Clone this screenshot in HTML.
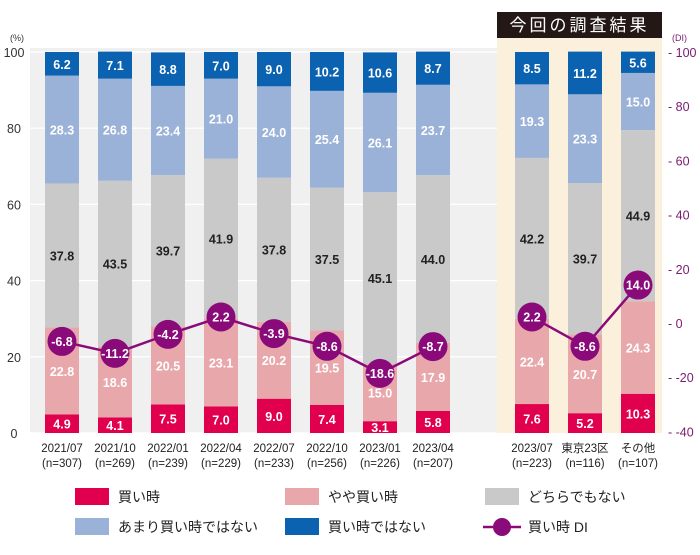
<!DOCTYPE html>
<html><head><meta charset="utf-8"><style>
body{margin:0;background:#fff;font-family:"Liberation Sans","Noto Sans CJK JP",sans-serif}
</style></head><body>
<svg id="c" width="700" height="550" xmlns="http://www.w3.org/2000/svg" font-family="Liberation Sans, Noto Sans CJK JP, sans-serif">
<rect x="30" y="48" width="467" height="385" fill="#f0f0f0"/>
<rect x="497" y="38" width="165" height="395" fill="#fbf0dc"/>
<rect x="497" y="12" width="165" height="26" fill="#231815"/>
<text x="579.5" y="31" fill="#fff" font-size="17" text-anchor="middle" letter-spacing="3">今回の調査結果</text>
<text x="10" y="41" font-size="9" fill="#333">(%)</text>
<text x="672" y="41" font-size="9" fill="#7a1a70">(DI)</text>
<g id="grid"></g><g id="bars"></g><g id="line"></g><g id="axes"></g>
<g font-size="14" fill="#222">
<rect x="75" y="488" width="34" height="17" fill="#e0004d"/>
<text x="118" y="502">買い時</text>
<rect x="285" y="488" width="34" height="17" fill="#e8a8ab"/>
<text x="328" y="502">やや買い時</text>
<rect x="485" y="488" width="34" height="17" fill="#c9c9c9"/>
<text x="528" y="502">どちらでもない</text>
<rect x="75" y="518" width="34" height="17" fill="#9bb2d8"/>
<text x="118" y="532">あまり買い時ではない</text>
<rect x="285" y="518" width="34" height="17" fill="#0b62b0"/>
<text x="328" y="532">買い時ではない</text>
<line x1="483" y1="527" x2="521" y2="527" stroke="#8a0a7a" stroke-width="2.5"/>
<circle cx="502" cy="527" r="9" fill="#8a0a7a"/>
<text x="528" y="532">買い時 DI</text>
</g>
</svg>
<script>
const categories=["2021/07","2021/10","2022/01","2022/04","2022/07","2022/10","2023/01","2023/04","2023/07","東京23区","その他"];
const samples=["(n=307)","(n=269)","(n=239)","(n=229)","(n=233)","(n=256)","(n=226)","(n=207)","(n=223)","(n=116)","(n=107)"];
const buy=[4.9,4.1,7.5,7.0,9.0,7.4,3.1,5.8,7.6,5.2,10.3];
const somewhatBuy=[22.8,18.6,20.5,23.1,20.2,19.5,15.0,17.9,22.4,20.7,24.3];
const neutral=[37.8,43.5,39.7,41.9,37.8,37.5,45.1,44.0,42.2,39.7,44.9];
const notReally=[28.3,26.8,23.4,21.0,24.0,25.4,26.1,23.7,19.3,23.3,15.0];
const notBuy=[6.2,7.1,8.8,7.0,9.0,10.2,10.6,8.7,8.5,11.2,5.6];
const di=[-6.8,-11.2,-4.2,2.2,-3.9,-8.6,-18.6,-8.7,2.2,-8.6,14.0];
const leftTicks=[0,20,40,60,80,100];
const rightTicks=[-40,-20,0,20,40,60,80,100];
const NS="http://www.w3.org/2000/svg";
const yL=v=>433-v*3.81;
const yR=v=>323-v*2.71;
const xC=i=>i<8?62+i*53:532+(i-8)*53;
const BW=34;
function mk(tag,attrs,parent){const e=document.createElementNS(NS,tag);for(const k in attrs)e.setAttribute(k,attrs[k]);parent.appendChild(e);return e;}
const grid=document.getElementById('grid'),bars=document.getElementById('bars'),line=document.getElementById('line'),axes=document.getElementById('axes');
leftTicks.forEach(t=>{
 const l=mk('line',{x1:30,x2:497,y1:yL(t),y2:yL(t),stroke:'#fff','stroke-width':1.2},grid);
 
 
 const tx=mk('text',{x:14,y:yL(t)+5,'font-size':12.5,fill:'#333','text-anchor':'middle'},axes);
 tx.textContent=t;
 
 
});
rightTicks.forEach(t=>{
 const tx=mk('text',{x:668,y:yR(t)+5,'font-size':12.5,fill:'#7a1a70'},axes);
 tx.textContent='- '+t;
 
 
});
const series=[[buy,'#e0004d','#fff','buy'],[somewhatBuy,'#e8a8ab','#fff','somewhat-buy'],[neutral,'#c9c9c9','#222','neutral'],[notReally,'#9bb2d8','#fff','not-really'],[notBuy,'#0b62b0','#fff','not-buy']];
categories.forEach((c,i)=>{
 let cum=0;const x=xC(i);
 series.forEach(([arr,col,tc,nm])=>{
  const v=arr[i];const y0=yL(cum),y1=yL(cum+v);cum+=v;
  const r=mk('rect',{x:x-BW/2,y:y1,width:BW,height:y0-y1,fill:col},bars);
  
  
  const t=mk('text',{x:x,y:(y0+y1)/2+5,'font-size':12.5,'font-weight':'bold',fill:tc,'text-anchor':'middle'},bars);
  t.textContent=v.toFixed(1);
  
  
 });
 const a=mk('text',{x:x,y:452,'font-size':11.5,fill:'#222','text-anchor':'middle'},axes);a.textContent=c;
 
 
 const b=mk('text',{x:x,y:467,'font-size':11.5,fill:'#222','text-anchor':'middle'},axes);b.textContent=samples[i];
 
 
});
function poly(from,to){
 const pts=[];for(let i=from;i<to;i++)pts.push(xC(i)+','+yR(di[i]));
 const p=mk('polyline',{points:pts.join(' '),fill:'none',stroke:'#8a0a7a','stroke-width':2.5},line);
 
 
}
poly(0,8);poly(8,11);
di.forEach((v,i)=>{
 const c=mk('circle',{cx:xC(i),cy:yR(v),r:14.5,fill:'#8a0a7a'},line);
 
 
 const t=mk('text',{x:xC(i),y:yR(v)+4.5,'font-size':12.5,'font-weight':'bold',fill:'#fff','text-anchor':'middle'},line);
 t.textContent=v.toFixed(1);
 
 
});
</script>
</body></html>
